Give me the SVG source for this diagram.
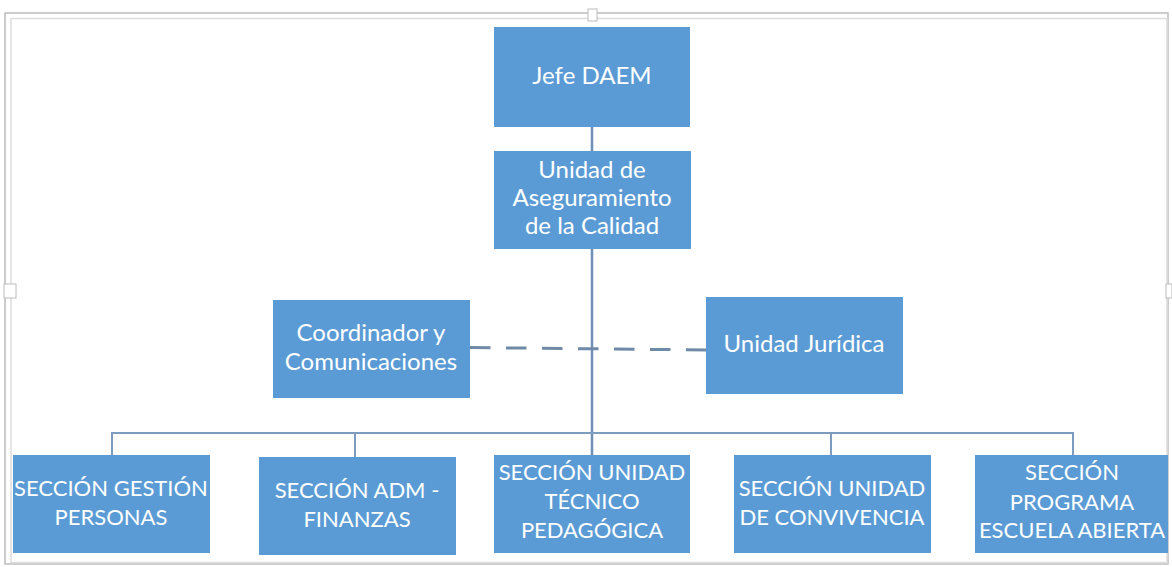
<svg xmlns="http://www.w3.org/2000/svg" width="1172" height="567" viewBox="0 0 1172 567">
<style>
.box{fill:#5b9bd5;}
.t{font-family:Lato,"Open Sans","Liberation Sans",sans-serif;font-size:22px;fill:#ffffff;text-anchor:middle;}
.m{font-size:24px;}
.ln{stroke:#6f90b3;stroke-width:2.5;fill:none;}
.bus{stroke:#7c9dc0;stroke-width:2;fill:none;}
.dash{stroke:#6e8aa6;stroke-width:3;stroke-dasharray:20.5 15.5;fill:none;}
.frame1{fill:none;stroke:#bcbcbc;stroke-width:1.5;}
.frame2{fill:none;stroke:#dddddd;stroke-width:1.5;}
.hdl{fill:#ffffff;stroke:#bcbcbc;stroke-width:1;}
</style>
<rect width="1172" height="567" fill="#ffffff"/>
<g id="frame">
<rect class="frame1" x="5" y="13" width="1163" height="551"/>
<rect class="frame2" x="11" y="18.5" width="1156" height="544"/>
<rect class="hdl" x="588" y="9" width="9" height="12"/>
<rect class="hdl" x="4" y="284" width="12" height="14"/>
<rect class="hdl" x="1166" y="284" width="6" height="14"/>
</g>
<g id="connectors">
<line class="ln" x1="592" y1="127" x2="592" y2="151"/>
<line class="ln" x1="592" y1="248" x2="592" y2="455"/>
<line class="dash" x1="470" y1="347.5" x2="706" y2="350"/>
<polyline class="bus" points="112,455 112,433 1073,433 1073,455"/>
<line class="bus" x1="355" y1="433" x2="355" y2="457"/>
<line class="bus" x1="831" y1="433" x2="831" y2="455"/>
</g>
<g id="jefe">
<rect class="box" x="494" y="27" width="196" height="100"/>
<text class="t m" x="592" y="84">Jefe DAEM</text>
</g>
<g id="aseguramiento">
<rect class="box" x="494" y="151" width="197" height="98"/>
<text class="t m" x="592" y="178">Unidad de</text>
<text class="t m" x="592" y="206">Aseguramiento</text>
<text class="t m" x="592" y="234">de la Calidad</text>
</g>
<g id="coordinador">
<rect class="box" x="273" y="300" width="197" height="98"/>
<text class="t m" x="371" y="341">Coordinador y</text>
<text class="t m" x="371" y="370">Comunicaciones</text>
</g>
<g id="juridica">
<rect class="box" x="706" y="297" width="197" height="97"/>
<text class="t m" x="804" y="352">Unidad Jurídica</text>
</g>
<g id="gestion">
<rect class="box" x="13" y="455" width="197" height="98"/>
<text class="t" x="111" y="496">SECCIÓN GESTIÓN</text>
<text class="t" x="111" y="525">PERSONAS</text>
</g>
<g id="adm">
<rect class="box" x="259" y="457" width="197" height="98"/>
<text class="t" x="357" y="498">SECCIÓN ADM -</text>
<text class="t" x="357" y="527">FINANZAS</text>
</g>
<g id="utp">
<rect class="box" x="494" y="455" width="196" height="98"/>
<text class="t" x="592" y="480">SECCIÓN UNIDAD</text>
<text class="t" x="592" y="509">TÉCNICO</text>
<text class="t" x="592" y="538">PEDAGÓGICA</text>
</g>
<g id="convivencia">
<rect class="box" x="734" y="455" width="197" height="98"/>
<text class="t" x="832" y="496">SECCIÓN UNIDAD</text>
<text class="t" x="832" y="525">DE CONVIVENCIA</text>
</g>
<g id="escuela">
<rect class="box" x="975" y="455" width="193" height="98"/>
<text class="t" x="1072" y="480">SECCIÓN</text>
<text class="t" x="1072" y="510">PROGRAMA</text>
<text class="t" x="1072" y="538">ESCUELA ABIERTA</text>
</g>
</svg>
